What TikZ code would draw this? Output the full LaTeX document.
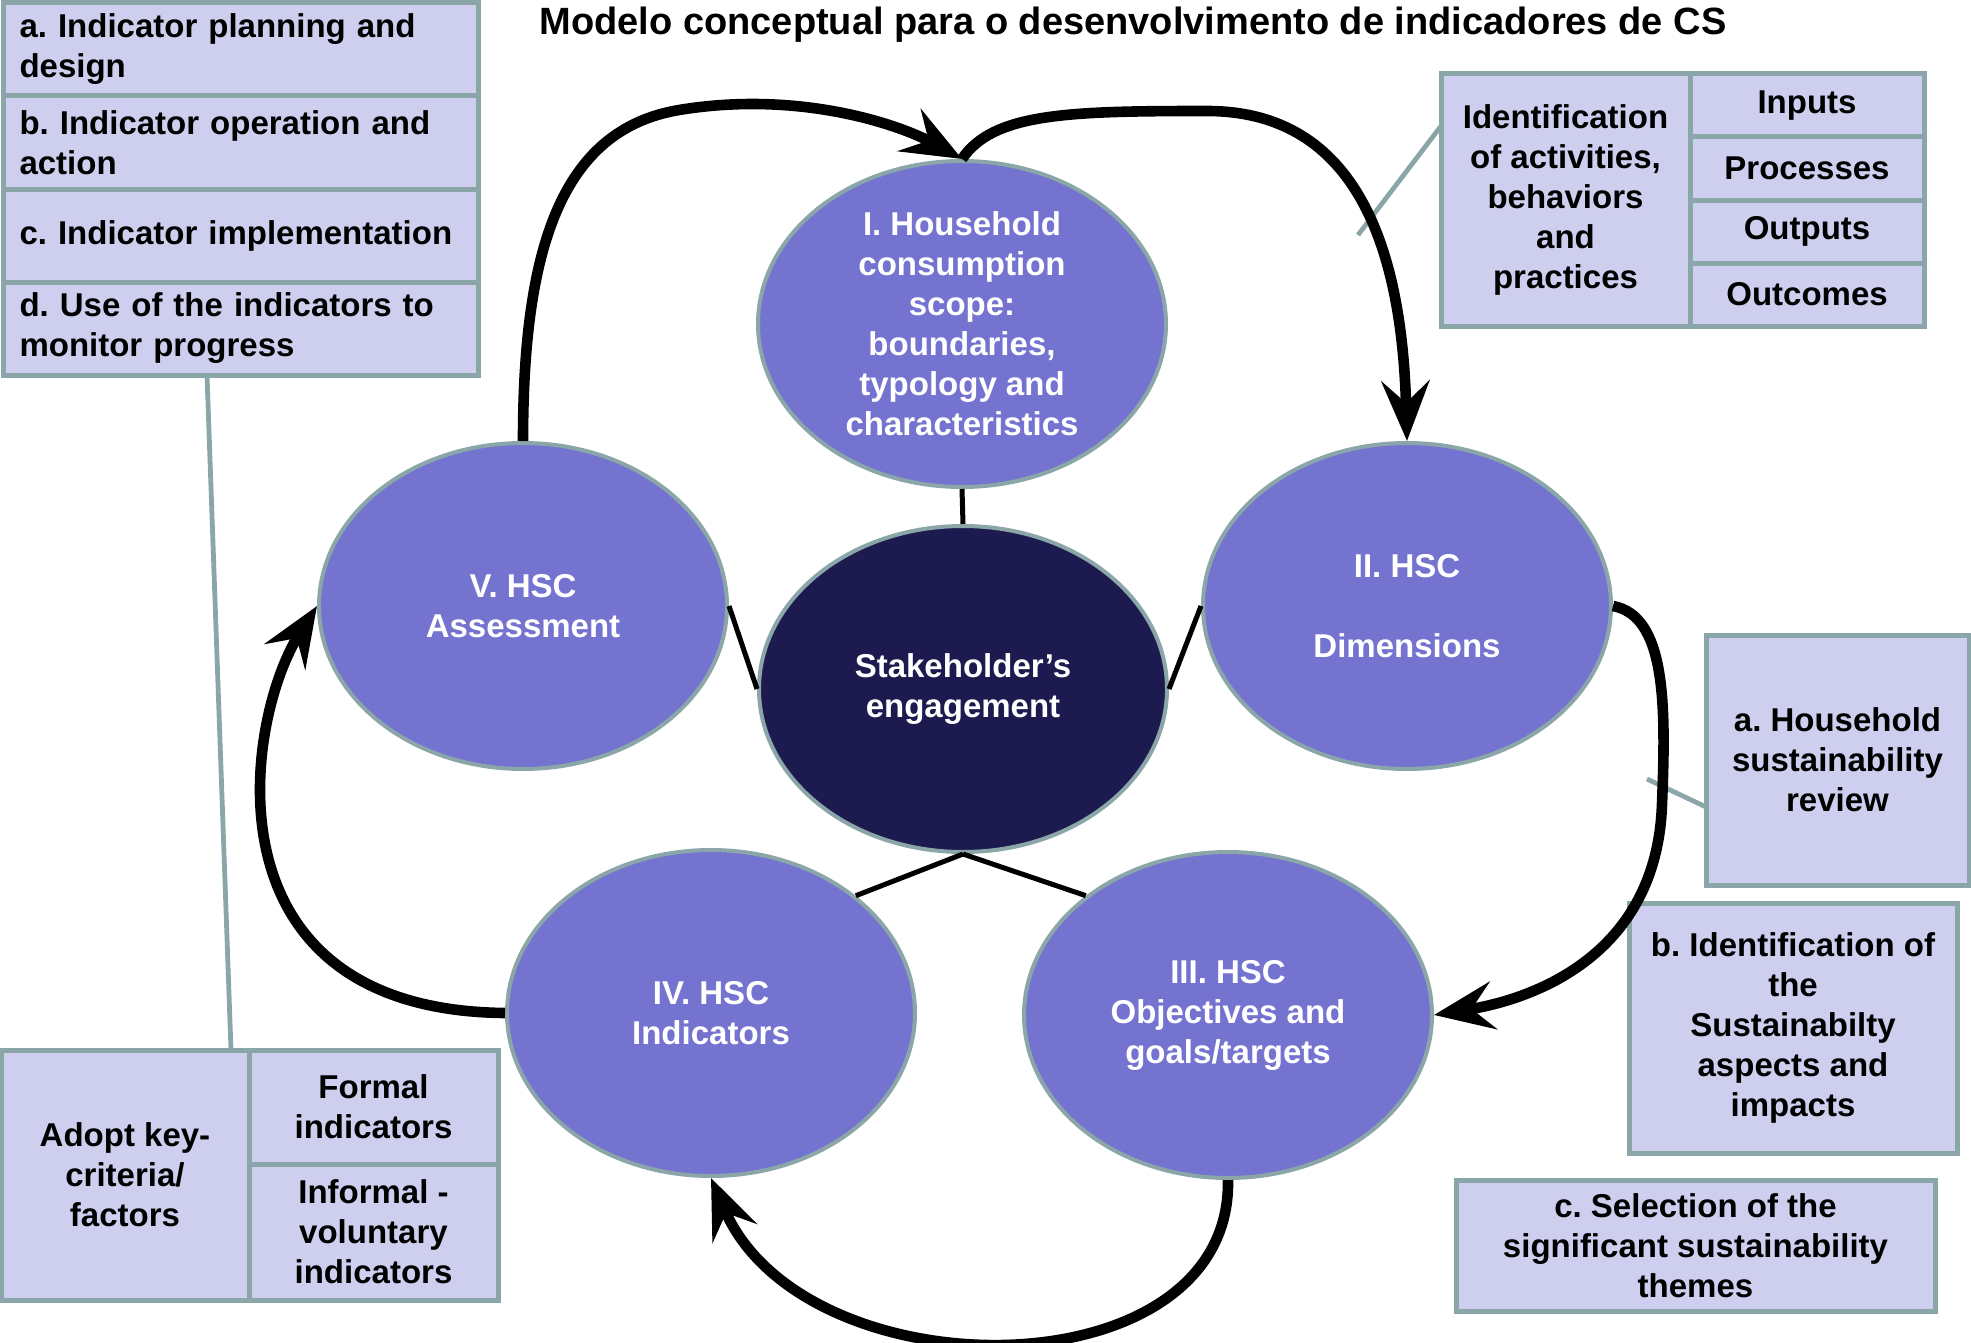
\documentclass[tikz,border=0pt]{standalone}
\usepackage{fontspec}
\setmainfont{Liberation Sans}
\usetikzlibrary{shapes.geometric, positioning, arrows.meta}

\definecolor{phaseblue}{RGB}{116,116,208}
\definecolor{coreblue}{RGB}{28,26,78}
\definecolor{edgegrey}{RGB}{139,166,168}
\definecolor{cellfill}{RGB}{206,206,238}

\newcommand{\diagfont}{\fontsize{16.5}{20}\selectfont\bfseries\frenchspacing}

\tikzset{
phase/.style={ellipse, draw=edgegrey, line width=2pt, fill=phaseblue, text=white,
  minimum width=204pt, minimum height=163pt, inner sep=-10pt, align=center, font=\diagfont},
core/.style={phase, fill=coreblue},
cell/.style={rectangle, draw=edgegrey, line width=2.5pt, fill=cellfill, inner sep=0pt,
  outer sep=0pt, align=center, font=\diagfont},
stage/.style={cell, minimum width=237.5pt, minimum height=46.5pt, text width=221pt, align=left},
flow/.style={line width=5.3pt, -{Stealth[length=30pt, width=24pt, inset=11pt]}},
link/.style={line width=2.5pt},
callout/.style={draw=edgegrey, line width=2.4pt},
}

\begin{document}
\begin{tikzpicture}[x=0.5pt, y=-0.5pt]
  \useasboundingbox (0,0) rectangle (1971,1343);

  \node[font=\fontsize{19}{23}\selectfont\bfseries] (title) at (1133,25)
    {Modelo conceptual para o desenvolvimento de indicadores de CS};

  % Stages of the indicator work (top left)
  \node[stage] (plan) at (240.5,49.5) {a. Indicator planning and\\design};
  \node[stage, below=0pt of plan] (operate) {b. Indicator operation and\\action};
  \node[stage, below=0pt of operate] (implement) {c. Indicator implementation};
  \node[stage, below=0pt of implement] (monitor) {d. Use of the indicators to\\monitor progress};

  % Activities table (top right)
  \node[cell, minimum width=124.5pt, minimum height=126pt] (ident) at (1565.5,200)
    {Identification\\of activities,\\behaviors\\and\\practices};
  \node[cell, anchor=north west, minimum width=117pt, minimum height=31.5pt] (inputs) at (ident.north east) {Inputs};
  \node[cell, below=0pt of inputs, minimum width=117pt, minimum height=31.5pt] (processes) {Processes};
  \node[cell, below=0pt of processes, minimum width=117pt, minimum height=31.5pt] (outputs) {Outputs};
  \node[cell, below=0pt of outputs, minimum width=117pt, minimum height=31.5pt] (outcomes) {Outcomes};

  % Dimension steps (right)
  \node[cell, minimum width=131.5pt, minimum height=125pt] (review) at (1837.5,760)
    {a. Household\\sustainability\\review};
  \node[cell, minimum width=164pt, minimum height=125pt] (aspects) at (1793,1028)
    {b. Identification of\\the\\Sustainabilty\\aspects and\\impacts};
  \node[cell, minimum width=239.5pt, minimum height=65.5pt] (themes) at (1695.5,1245.5)
    {c. Selection of the\\significant sustainability\\themes};

  % Criteria table (bottom left)
  \node[cell, minimum width=124pt, minimum height=125pt] (adopt) at (125,1175)
    {Adopt key-\\criteria/\\factors};
  \node[cell, anchor=north west, minimum width=124.5pt, minimum height=57pt] (formal) at (adopt.north east)
    {Formal\\indicators};
  \node[cell, below=0pt of formal, minimum width=124.5pt, minimum height=68pt] (informal)
    {Informal -\\voluntary\\indicators};

  % Phases
  \node[phase] (scope) at (962,324)
    {I. Household\\consumption\\scope:\\boundaries,\\typology and\\characteristics};
  \node[phase] (dims) at (1407,606) {II. HSC\\[20pt]Dimensions};
  \node[phase] (goals) at (1228,1015) {III. HSC\\Objectives and\\goals/targets};
  \node[phase] (indic) at (711,1013) {IV. HSC\\Indicators};
  \node[phase] (assess) at (523,606) {V. HSC\\Assessment};
  \node[core] (engage) at (963,689) {Stakeholder’s\\engagement};

  % Callouts
  \coordinate (identtip) at (1358,235);
  \coordinate (reviewtip) at (1647,779);
  \draw[callout] ([yshift=37pt]ident.west) -- (identtip);
  \draw[callout] ([yshift=-23.5pt]review.west) -- (reviewtip);
  \draw[callout] ([xshift=-16.75pt]monitor.south) -- ([xshift=-9pt]adopt.north east);

  % Links to the stakeholders
  \draw[link] (scope.south) -- (engage.north);
  \draw[link] (assess.east) -- (engage.west);
  \draw[link] (dims.west) -- (engage.east);
  \draw[link] (engage.south) -- (indic.39);
  \draw[link] (engage.south) -- (goals.140);

  % Cycle
  \draw[flow] (assess.north) .. controls (523,251) and (560,130) .. (679,110)
    .. controls (800,90) and (900,125) .. (scope.north);
  \draw[flow] (scope.north) .. controls (993,113) and (1068,111) .. (1207,111)
    .. controls (1358,111) and (1402,251) .. (dims.north);
  \draw[flow] (dims.east) .. controls (1666,616) and (1666,704) .. (1662,804)
    .. controls (1657,955) and (1534,999) .. (goals.east);
  \draw[flow] (goals.south) .. controls (1232,1395) and (804,1395) .. (indic.south);
  \draw[flow] (indic.west) .. controls (200,1010) and (245,720) .. (assess.west);
\end{tikzpicture}
\end{document}
